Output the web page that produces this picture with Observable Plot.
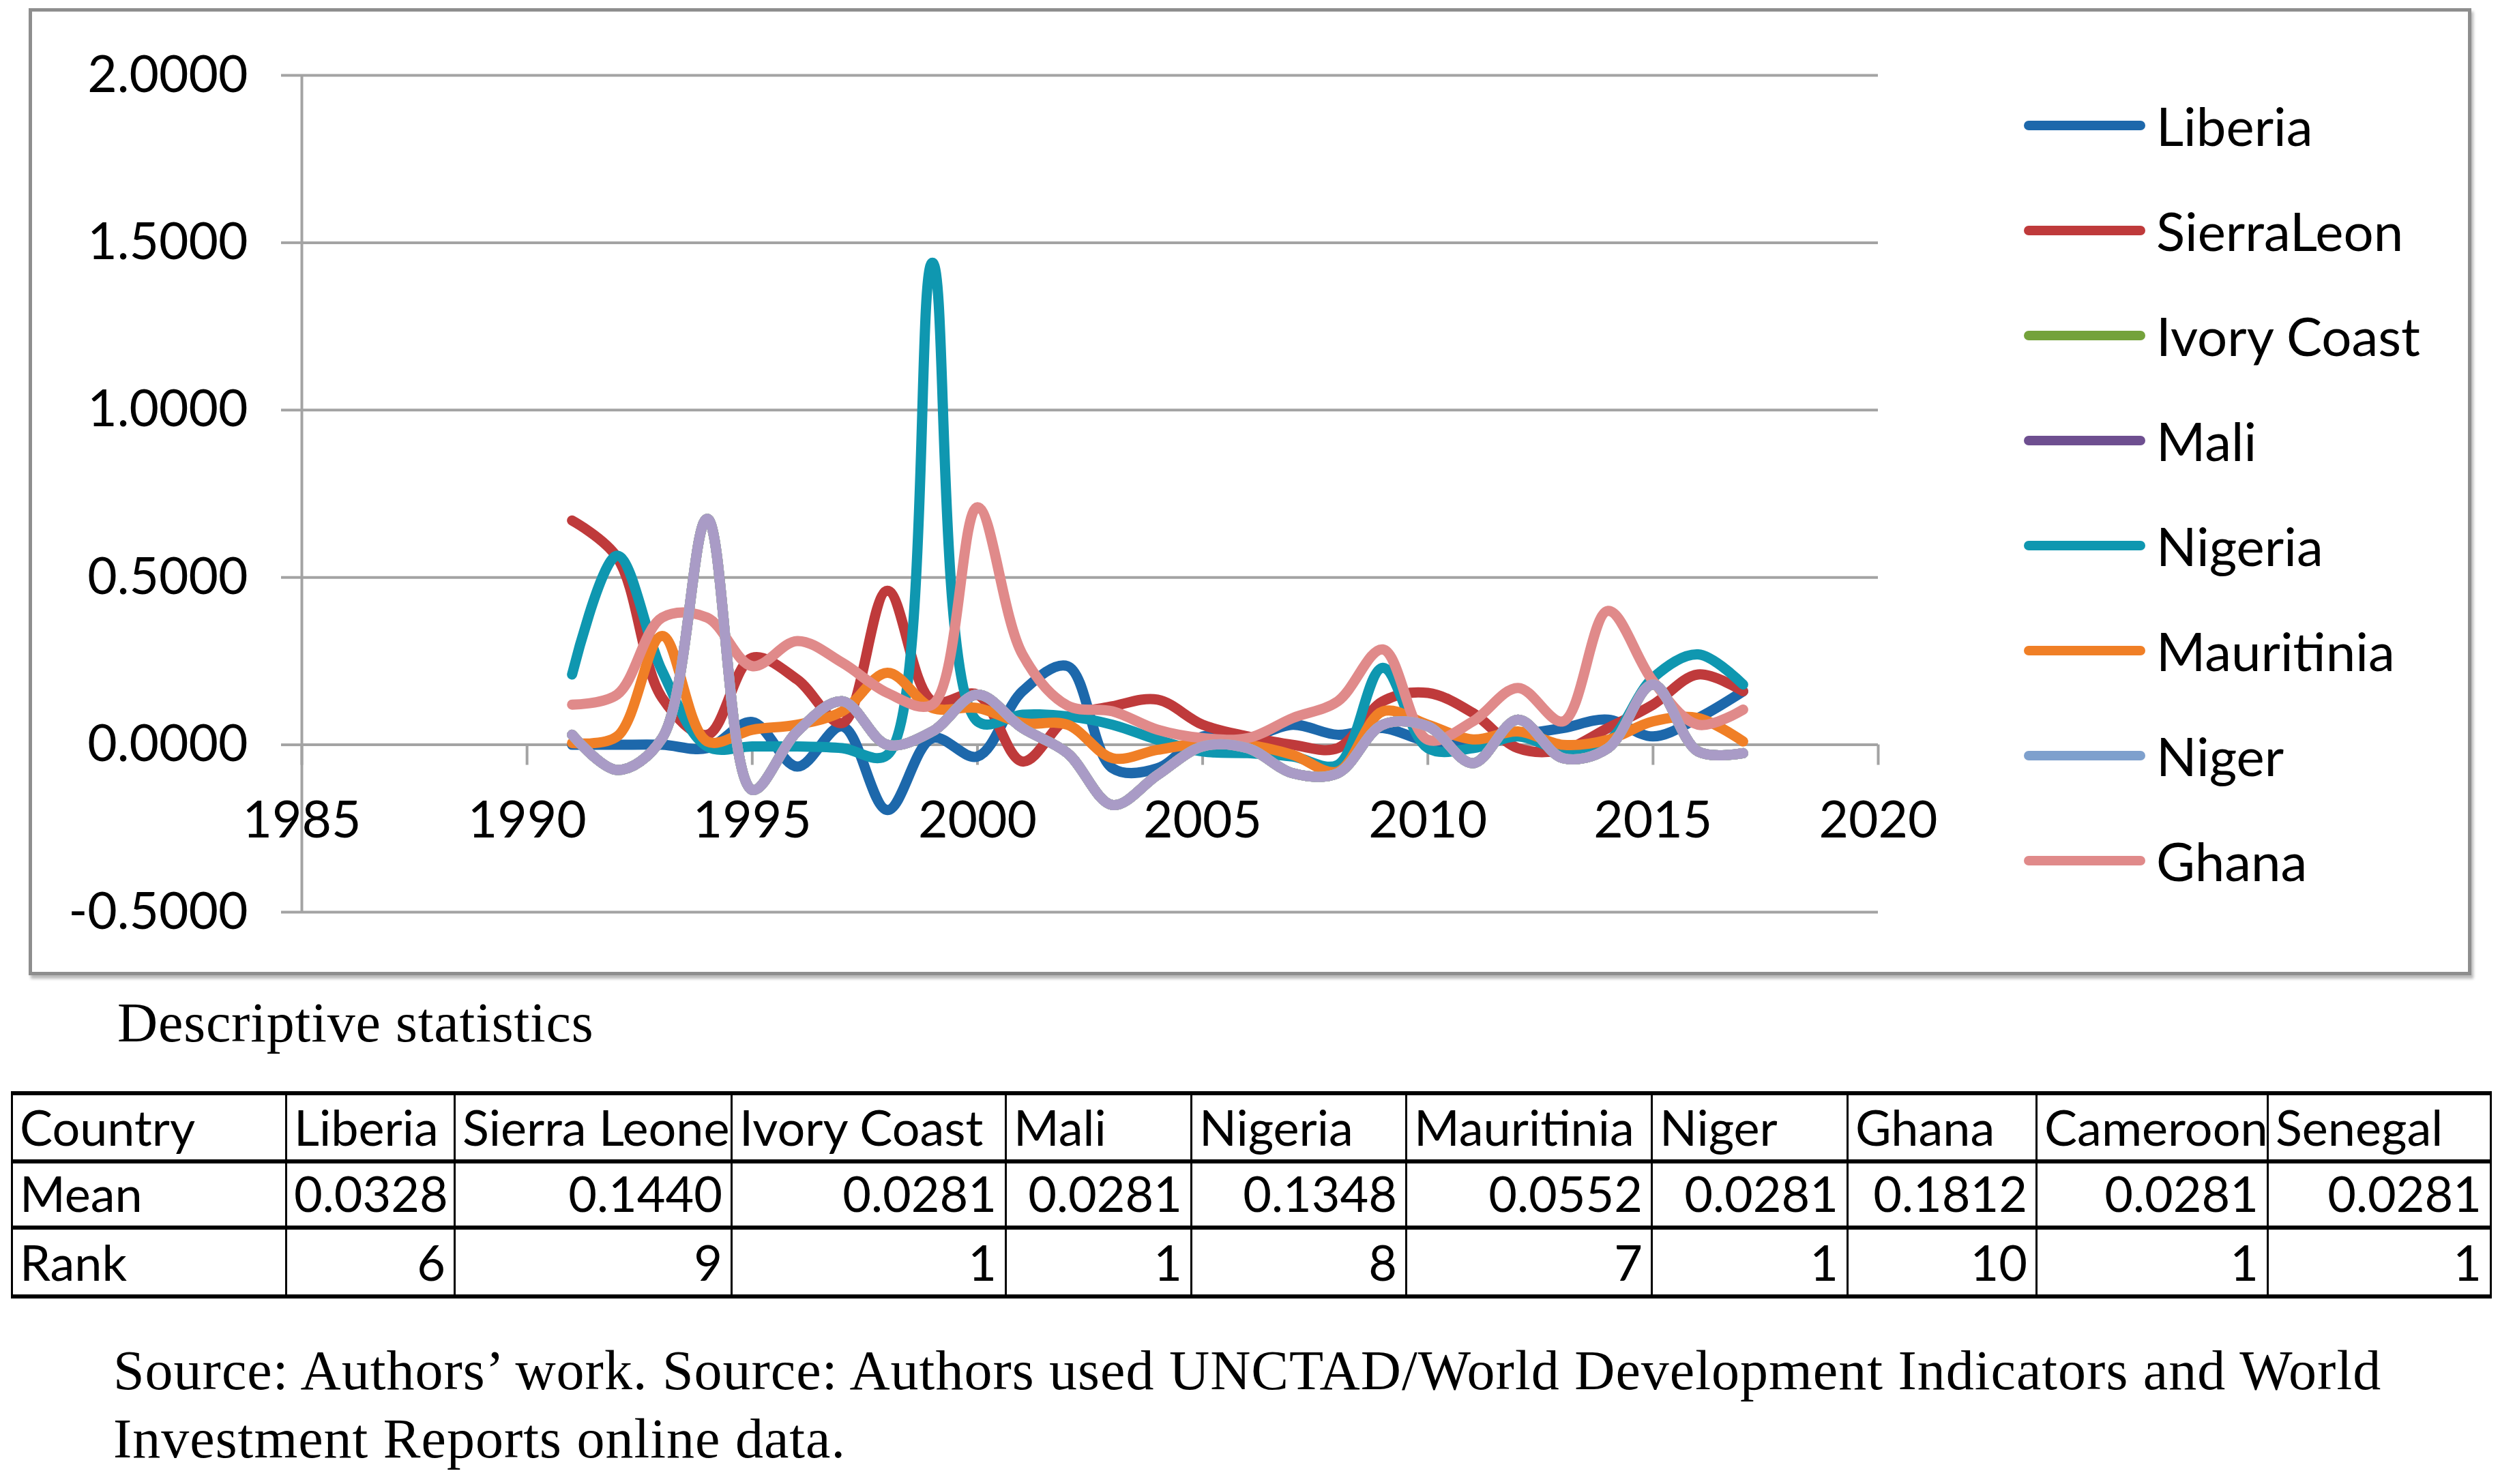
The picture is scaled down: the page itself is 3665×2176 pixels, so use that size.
<!DOCTYPE html>
<html>
<head>
<meta charset="utf-8">
<script src="https://cdn.jsdelivr.net/npm/d3@7"></script>
<script src="https://cdn.jsdelivr.net/npm/@observablehq/plot@0.6"></script>
<style>
html, body { margin: 0; padding: 0; background: #fff; }
body { width: 3665px; height: 2176px; position: relative; overflow: hidden; font-family: Lato, "Open Sans", sans-serif; color: #000; }
#frame { position: absolute; left: 42px; top: 12px; width: 3571px; height: 1408px; border: 5px solid #8e8e8e; box-shadow: 3px 5px 4px rgba(0,0,0,0.28); background: #fff; }
#chart { position: absolute; left: 0; top: 0; }
.li { position: absolute; left: 2967px; height: 78px; display: flex; align-items: center; font-size: 78px; line-height: 1; white-space: nowrap; }
.sw { width: 178px; height: 14px; border-radius: 7px; margin-right: 16px; }
#caption { position: absolute; left: 172px; top: 1459px; font-family: "Liberation Serif", serif; font-size: 82px; letter-spacing: 0.8px; line-height: 1; white-space: nowrap; }
#source { position: absolute; left: 166px; top: 1960px; font-family: "Liberation Serif", serif; font-size: 82px; letter-spacing: 1px; line-height: 100px; white-space: nowrap; }
#stats { position: absolute; left: 16px; top: 1600px; width: 3634px; border-collapse: collapse; table-layout: fixed; font-family: Lato, sans-serif; font-size: 72px; line-height: 1; }
#stats td { border-left: 3px solid #000; border-right: 3px solid #000; border-top: 6px solid #000; border-bottom: 6px solid #000; padding: 0 12px 12px 10px; vertical-align: bottom; white-space: nowrap; overflow: hidden; }
#stats td.num { text-align: right; }
#stats td.lab { text-align: left; }
</style>
</head>
<body>
<div id="frame"></div>
<div id="chart"></div>
<div id="legend"></div>
<div id="caption">Descriptive statistics</div>
<table id="stats"></table>
<div id="source">Source: Authors’ work. Source: Authors used UNCTAD/World Development Indicators and World<br>Investment Reports online data.</div>
<script>
// ---------- data ----------
const years = [1991, 1992, 1993, 1994, 1995, 1996, 1997, 1998, 1999, 2000, 2001, 2002, 2003, 2004, 2005, 2006, 2007, 2008, 2009, 2010, 2011, 2012, 2013, 2014, 2015, 2016, 2017];

const liberia    = [0.000, 0.000, 0.000, -0.010, 0.068, -0.065, 0.055, -0.195, 0.020, -0.035, 0.160, 0.235, -0.070, -0.070, 0.025, 0.020, 0.060, 0.030, 0.050, 0.010, 0.010, 0.030, 0.050, 0.075, 0.025, 0.080, 0.160];
const sierraLeon = [0.670, 0.560, 0.140, 0.030, 0.260, 0.195, 0.065, 0.460, 0.130, 0.150, -0.050, 0.080, 0.115, 0.135, 0.060, 0.025, 0.000, -0.010, 0.130, 0.155, 0.095, -0.010, -0.015, 0.050, 0.120, 0.210, 0.160];
const ivoryCoast = [0.030, -0.075, 0.020, 0.675, -0.135, 0.040, 0.130, 0.000, 0.040, 0.150, 0.050, -0.025, -0.180, -0.090, -0.005, -0.010, -0.085, -0.085, 0.060, 0.055, -0.055, 0.075, -0.040, -0.010, 0.180, -0.020, -0.025];
const mali       = [0.030, -0.075, 0.020, 0.675, -0.135, 0.040, 0.130, 0.000, 0.040, 0.150, 0.050, -0.025, -0.180, -0.090, -0.005, -0.010, -0.085, -0.085, 0.060, 0.055, -0.055, 0.075, -0.040, -0.010, 0.180, -0.020, -0.025];
const nigeria    = [0.210, 0.565, 0.220, -0.005, -0.005, -0.005, -0.010, -0.030, 1.440, 0.070, 0.090, 0.085, 0.060, 0.015, -0.020, -0.025, -0.035, -0.060, 0.230, -0.010, -0.010, 0.025, -0.015, 0.010, 0.200, 0.270, 0.180];
const mauritinia = [0.005, 0.025, 0.325, 0.010, 0.045, 0.060, 0.100, 0.215, 0.110, 0.110, 0.065, 0.060, -0.040, -0.015, 0.005, 0.000, -0.030, -0.080, 0.100, 0.060, 0.016, 0.040, 0.000, 0.015, 0.070, 0.080, 0.010];
const niger      = [0.030, -0.075, 0.020, 0.675, -0.135, 0.040, 0.130, 0.000, 0.040, 0.150, 0.050, -0.025, -0.180, -0.090, -0.005, -0.010, -0.085, -0.085, 0.060, 0.055, -0.055, 0.075, -0.040, -0.010, 0.180, -0.020, -0.025];
const ghana      = [0.120, 0.150, 0.380, 0.380, 0.235, 0.310, 0.245, 0.155, 0.120, 0.710, 0.270, 0.117, 0.100, 0.045, 0.020, 0.020, 0.080, 0.130, 0.285, 0.015, 0.070, 0.170, 0.070, 0.400, 0.190, 0.060, 0.105];
const cameroon   = [0.030, -0.075, 0.020, 0.675, -0.135, 0.040, 0.130, 0.000, 0.040, 0.150, 0.050, -0.025, -0.180, -0.090, -0.005, -0.010, -0.085, -0.085, 0.060, 0.055, -0.055, 0.075, -0.040, -0.010, 0.180, -0.020, -0.025];
const senegal    = [0.030, -0.075, 0.020, 0.675, -0.135, 0.040, 0.130, 0.000, 0.040, 0.150, 0.050, -0.025, -0.180, -0.090, -0.005, -0.010, -0.085, -0.085, 0.060, 0.055, -0.055, 0.075, -0.040, -0.010, 0.180, -0.020, -0.025];

const seriesNames  = ["Liberia", "SierraLeon", "Ivory Coast", "Mali", "Nigeria", "Mauritinia", "Niger", "Ghana", "Cameroon", "Senegal"];
const seriesValues = [liberia, sierraLeon, ivoryCoast, mali, nigeria, mauritinia, niger, ghana, cameroon, senegal];
const seriesColors = ["#1d68ab", "#bf3a3b", "#74a23b", "#6e4f90", "#0f97b0", "#f07f26", "#7ea0cd", "#e08a8a", "#b4cf8b", "#a99bc6"];
const legendCount = 8; // the legend box shows only the first eight series

const xTicks = [1985, 1990, 1995, 2000, 2005, 2010, 2015, 2020];
const yTicks = [-0.5, 0, 0.5, 1, 1.5, 2];

const tableHeader = ["Country", "Liberia", "Sierra Leone", "Ivory Coast", "Mali", "Nigeria", "Mauritinia", "Niger", "Ghana", "Cameroon", "Senegal"];
const tableMeans  = ["0.0328", "0.1440", "0.0281", "0.0281", "0.1348", "0.0552", "0.0281", "0.1812", "0.0281", "0.0281"];
const tableRanks  = [6, 9, 1, 1, 8, 7, 1, 10, 1, 1];

// ---------- chart ----------
const gray = "#a3a3a3";
const tickDepth = -0.061; // downward x tick length, in value units

const lineMarks = seriesNames.map((name, i) =>
  Plot.line(years.map((yr, j) => ({year: yr, value: seriesValues[i][j], country: name})), {
    x: "year", y: "value", stroke: seriesColors[i], strokeWidth: 15,
    curve: "catmull-rom", strokeLinecap: "round", strokeLinejoin: "round"
  })
);

const chart = Plot.plot({
  width: 2900,
  height: 1430,
  marginLeft: 442,
  marginRight: 147,
  marginTop: 110,
  marginBottom: 93,
  x: {domain: [1985, 2020], axis: null},
  y: {domain: [-0.5, 2], axis: null},
  style: {fontFamily: "Lato, 'Open Sans', sans-serif", background: "transparent", overflow: "visible", color: "#000"},
  marks: [
    Plot.gridY(yTicks, {stroke: gray, strokeOpacity: 1, strokeWidth: 4}),
    Plot.axisY(yTicks, {tickSize: 30, tickPadding: 49, tickFormat: d => d.toFixed(4), fontSize: 75, stroke: gray, strokeWidth: 4, fill: "#000", label: null}),
    Plot.ruleX([1985], {stroke: gray, strokeWidth: 4}),
    Plot.ruleY([0], {stroke: gray, strokeWidth: 4}),
    Plot.ruleX(xTicks, {x: d => d, y1: 0, y2: tickDepth, stroke: gray, strokeWidth: 4}),
    Plot.text(xTicks, {x: d => d, y: 0, dy: 112, text: d => String(d), fontSize: 75, fill: "#000"}),
    ...lineMarks
  ]
});
document.getElementById("chart").appendChild(chart);

// ---------- legend ----------
const legend = document.getElementById("legend");
seriesNames.slice(0, legendCount).forEach((name, i) => {
  const item = document.createElement("div");
  item.className = "li";
  item.style.top = (184 - 39 + i * 154) + "px";
  const sw = document.createElement("span");
  sw.className = "sw";
  sw.style.background = seriesColors[i];
  const tx = document.createElement("span");
  tx.textContent = name;
  item.appendChild(sw);
  item.appendChild(tx);
  legend.appendChild(item);
});

// ---------- table ----------
const colWidths = [402, 247, 406, 402, 272, 315, 360, 287, 277, 339, 327];
const rowHeights = [100, 97, 101];
const table = document.getElementById("stats");
const cg = document.createElement("colgroup");
colWidths.forEach(w => { const c = document.createElement("col"); c.style.width = w + "px"; cg.appendChild(c); });
table.appendChild(cg);
const rows = [
  tableHeader.map(t => ({t, cls: "lab"})),
  [{t: "Mean", cls: "lab"}, ...tableMeans.map(t => ({t, cls: "num"}))],
  [{t: "Rank", cls: "lab"}, ...tableRanks.map(t => ({t: String(t), cls: "num"}))]
];
rows.forEach((r, ri) => {
  const tr = document.createElement("tr");
  tr.style.height = rowHeights[ri] + "px";
  r.forEach(c => {
    const td = document.createElement("td");
    td.className = c.cls;
    td.textContent = c.t;
    tr.appendChild(td);
  });
  table.appendChild(tr);
});
</script>
</body>
</html>
